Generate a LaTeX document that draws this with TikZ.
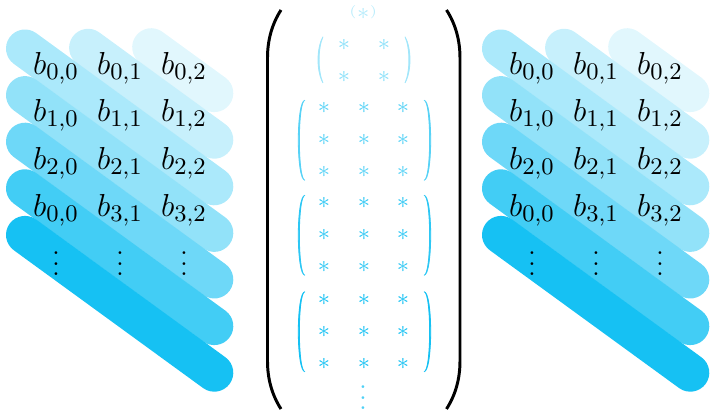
\documentclass[tikz,border=0pt]{standalone}

\definecolor{sky}{RGB}{22,193,243}

\tikzset{
  band/.style={line width=14.34pt, line cap=round},
  entry/.style={inner sep=0pt, outer sep=0pt},
  btext/.style={entry, font=\fontsize{12.2}{14}\selectfont},
  star/.style={entry, font=\fontsize{9}{10}\selectfont},
  bigparen/.style={line width=1.12pt, line cap=butt},
}

% three stacked dots without the extra space above them
\newcommand\dotcol{\vbox{\baselineskip4pt\lineskiplimit0pt
  \hbox{.}\hbox{.}\hbox{.}}}

% thin parenthesis: #1 colour, #2 tip x, #3 top y, #4 bottom y, #5 extreme x of the bulge
\newcommand\mparen[5]{%
  \pgfmathsetmacro\pco{#2+(#5-#2)/0.75}%
  \pgfmathsetmacro\pci{#2+(#5-#2)*(1-1.1/abs(#5-#2))/0.75}%
  \pgfmathsetmacro\pya{#3+0.25*(#4-#3)}%
  \pgfmathsetmacro\pyb{#4-0.25*(#4-#3)}%
  \filldraw[#1, line width=0.3pt] (#2,#3) .. controls (\pco,\pya) and (\pco,\pyb) .. (#2,#4)
    .. controls (\pci,\pyb) and (\pci,\pya) .. cycle;}

% One block of diagonal bands with the entries b_{i,j} laid over them.
% #1: prefix for node names, #2: horizontal offset (in picture units)
\newcommand\bandblock[2]{%
  \begin{scope}[shift={(#2,0)}]
    % bands, one per diagonal, lightest first
    \draw[band, sky!13] (151.2,47.2) -- (214.3,93.1);
    \draw[band, sky!24] (88.1,47.8)  -- (214.3,139.7);
    \draw[band, sky!36] (25,48.5)    -- (214.3,186.3);
    \draw[band, sky!47] (25,95.1)    -- (214.3,232.9);
    \draw[band, sky!62] (25,141.7)   -- (214.3,279.5);
    \draw[band, sky!81] (25,188.3)   -- (214.3,326.1);
    \draw[band, sky]    (25,234.9)   -- (214.3,372.7);
    % entries
    \foreach \r/\y in {0/68,1/115.5,2/163}
      \foreach \c/\x in {0/56,1/120,2/184}
        \node[btext] (#1-\r-\c) at (\x,\y) {$b_{\r,\c}$};
    \node[btext] (#1-3-0) at (56,210.5)  {$b_{0,0}$};
    \node[btext] (#1-3-1) at (120,210.5) {$b_{3,1}$};
    \node[btext] (#1-3-2) at (184,210.5) {$b_{3,2}$};
    \foreach \c/\x in {0/56,1/120,2/184}
      \node[entry, anchor=base] (#1-v-\c) at (\x,276) {\dotcol};
  \end{scope}}

\begin{document}
\begin{tikzpicture}[x=0.3774pt, y=-0.3774pt]
  \useasboundingbox (0,0) rectangle (711,410);

  \bandblock{L}{0}
  \bandblock{R}{476}

  % middle column: a 1x1 block, a 2x2 block and three 3x3 blocks
  \node[star, text=sky!32] (m1) at (363.3,12.5)
    {\raisebox{1.6pt}{\tiny(}\hspace{0.2pt}$\ast$\hspace{0.2pt}\raisebox{1.6pt}{\tiny)}};

  \foreach \r/\y in {0/45,1/76.7}
    \foreach \c/\x in {0/344,1/384}
      \node[star, text=sky!50] (m2-\r-\c) at (\x,\y) {$\ast$};
  \mparen{sky!40}{323}{36.7}{83}{318}
  \mparen{sky!40}{405}{36.7}{83}{410}

  \foreach \k/\yc/\shade in {3/140.3/72, 4/235.3/90, 5/331.7/100} {
    \foreach \r/\dy in {0/-32,1/0,2/32}
      \foreach \c/\x in {0/324,1/364,2/403}
        \node[star, text=sky!\shade] (m\k-\r-\c) at (\x,\yc+\dy) {$\ast$};
    \mparen{sky!\shade}{305}{\yc-40}{\yc+40}{298.3}
    \mparen{sky!\shade}{424}{\yc-40}{\yc+40}{430.7}
  }

  \node[entry, anchor=base, text=sky!75] (m6) at (363,410) {\dotcol};

  % large enclosing parentheses
  \draw[bigparen] (281,10) .. controls (272,24) and (267.5,40) .. (267.5,58)
    -- (267.5,361) .. controls (267.5,379) and (272,395) .. (281,409);
  \draw[bigparen] (446.5,10) .. controls (455.5,24) and (460,40) .. (460,58)
    -- (460,361) .. controls (460,379) and (455.5,395) .. (446.5,409);
\end{tikzpicture}
\end{document}
